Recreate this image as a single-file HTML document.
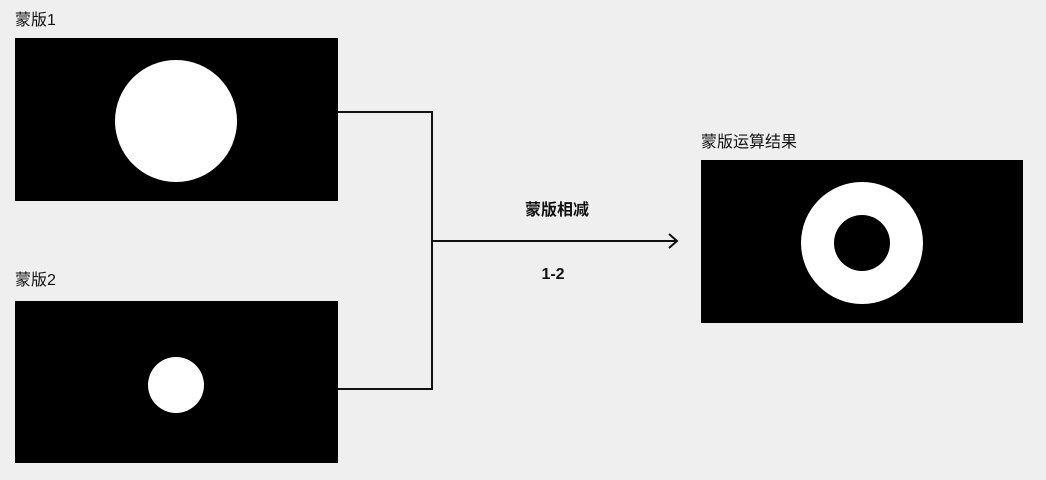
<!DOCTYPE html>
<html><head><meta charset="utf-8"><style>
html,body{margin:0;padding:0;background:#efefef;}
body{width:1046px;height:480px;overflow:hidden;font-family:"Liberation Sans","Noto Sans CJK SC",sans-serif;}
</style></head><body>
<svg width="1046" height="480" xmlns="http://www.w3.org/2000/svg" style="display:block">
<rect width="1046" height="480" fill="#efefef"/>
<g font-family="Liberation Sans, Noto Sans CJK SC, sans-serif" fill="#111">
<text x="15" y="25" font-size="16">蒙版1</text>
<text x="15" y="285" font-size="16">蒙版2</text>
<text x="701" y="147" font-size="16">蒙版运算结果</text>
<text x="557" y="215" font-size="16" font-weight="bold" text-anchor="middle">蒙版相减</text>
<text x="553" y="279" font-size="16" font-weight="bold" text-anchor="middle">1-2</text>
</g>
<rect x="15" y="38" width="323" height="163" fill="#000"/>
<circle cx="176" cy="121" r="61" fill="#fff"/>
<rect x="15" y="301" width="323" height="162" fill="#000"/>
<circle cx="176" cy="385" r="28" fill="#fff"/>
<rect x="701" y="160" width="322" height="163" fill="#000"/>
<circle cx="862" cy="243" r="61" fill="#fff"/>
<circle cx="862" cy="243" r="28" fill="#000"/>
<polyline points="338,112 432,112 432,389 338,389" fill="none" stroke="#111" stroke-width="2"/>
<line x1="432" y1="241" x2="677" y2="241" stroke="#111" stroke-width="2"/>
<polyline points="669,234 677,241 669,248" fill="none" stroke="#111" stroke-width="2"/>
</svg>
</body></html>
